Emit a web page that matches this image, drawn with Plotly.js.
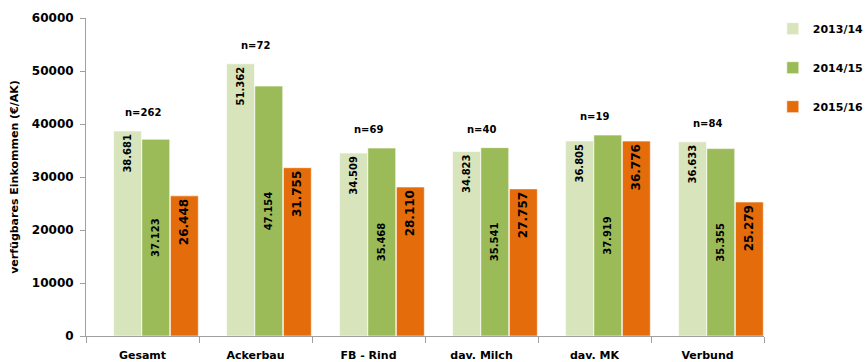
<!DOCTYPE html>
<html>
<head>
<meta charset="utf-8">
<script src="https://cdn.plot.ly/plotly-3.0.1.min.js"></script>
<style>html,body{margin:0;padding:0;background:#fff}#chart{width:865px;height:362px}</style>
</head>
<body>
<div id="chart"></div>
<script>
var categories = ["Gesamt", "Ackerbau", "FB - Rind", "dav. Milch", "dav. MK", "Verbund"];
var nCounts = [262, 72, 69, 40, 19, 84];
var series2013 = [38681, 51362, 34509, 34823, 36805, 36633];
var series2014 = [37123, 47154, 35468, 35541, 37919, 35355];
var series2015 = [26448, 31755, 28110, 27757, 36776, 25279];
var seriesNames = ["2013/14", "2014/15", "2015/16"];

var FONT = "DejaVu Sans";
function mk(name, vals, color, anchor, size, grp, off) {
  return {
    type: "bar", name: name, x: categories, y: vals,
    width: 0.247, offset: off,
    marker: {color: color, line: {color: "rgba(255,255,255,0.6)", width: 1}},
    texttemplate: "%{y:,.0f}", textposition: "inside", insidetextanchor: anchor,
    textangle: -90, constraintext: "none",
    insidetextfont: {family: FONT, size: size, color: "#000", weight: "bold"},
    legendgroup: grp, hoverinfo: "skip"
  };
}
var data = [
  mk(seriesNames[0], series2013, "#d8e4bc", "end", 10, "a", -0.256),
  mk(seriesNames[1], series2014, "#9bbb59", "middle", 10, "b", -0.006),
  mk(seriesNames[2], series2015, "#e46c0a", "end", 12, "c", 0.247)
];

var annotations = categories.map(function (c, i) {
  var top = Math.max(series2013[i], series2014[i], series2015[i]);
  return {x: c, y: top + 2000, xref: "x", yref: "y", text: "n=" + nCounts[i],
    showarrow: false, yanchor: "bottom",
    font: {family: FONT, size: 10, color: "#000", weight: "bold"}};
});

var layout = {
  width: 865, height: 362,
  margin: {l: 86, r: 101, t: 18, b: 26, autoexpand: false},
  paper_bgcolor: "#fff", plot_bgcolor: "#fff",
  separators: ",.",
  barmode: "overlay",
  showlegend: true,
  legend: {x: 1.013, xanchor: "left", y: 1.012, yanchor: "top", tracegroupgap: 20,
    itemwidth: 30, font: {family: FONT, size: 11, color: "#000", weight: "bold"}},
  xaxis: {type: "category", showline: true, linecolor: "#a0a0a0", linewidth: 1,
    ticks: "outside", tickson: "boundaries", ticklen: 6, tickcolor: "#a0a0a0",
    ticklabelstandoff: 9,
    tickfont: {family: FONT, size: 11, color: "#000", weight: "bold"},
    showgrid: false, zeroline: false},
  yaxis: {range: [0, 60000], dtick: 10000, tickformat: "d", showline: true,
    linecolor: "#a0a0a0", linewidth: 1, ticks: "outside", ticklen: 5, tickcolor: "#a0a0a0",
    ticklabelstandoff: 4,
    showgrid: false, zeroline: false,
    tickfont: {family: FONT, size: 12, color: "#000", weight: "bold"},
    title: {text: "verfügbares Einkommen (€/AK)", standoff: 10,
      font: {family: FONT, size: 11, color: "#000", weight: "bold"}}},
  annotations: annotations
};
Plotly.newPlot("chart", data, layout, {displayModeBar: false, staticPlot: true});
</script>
</body>
</html>
